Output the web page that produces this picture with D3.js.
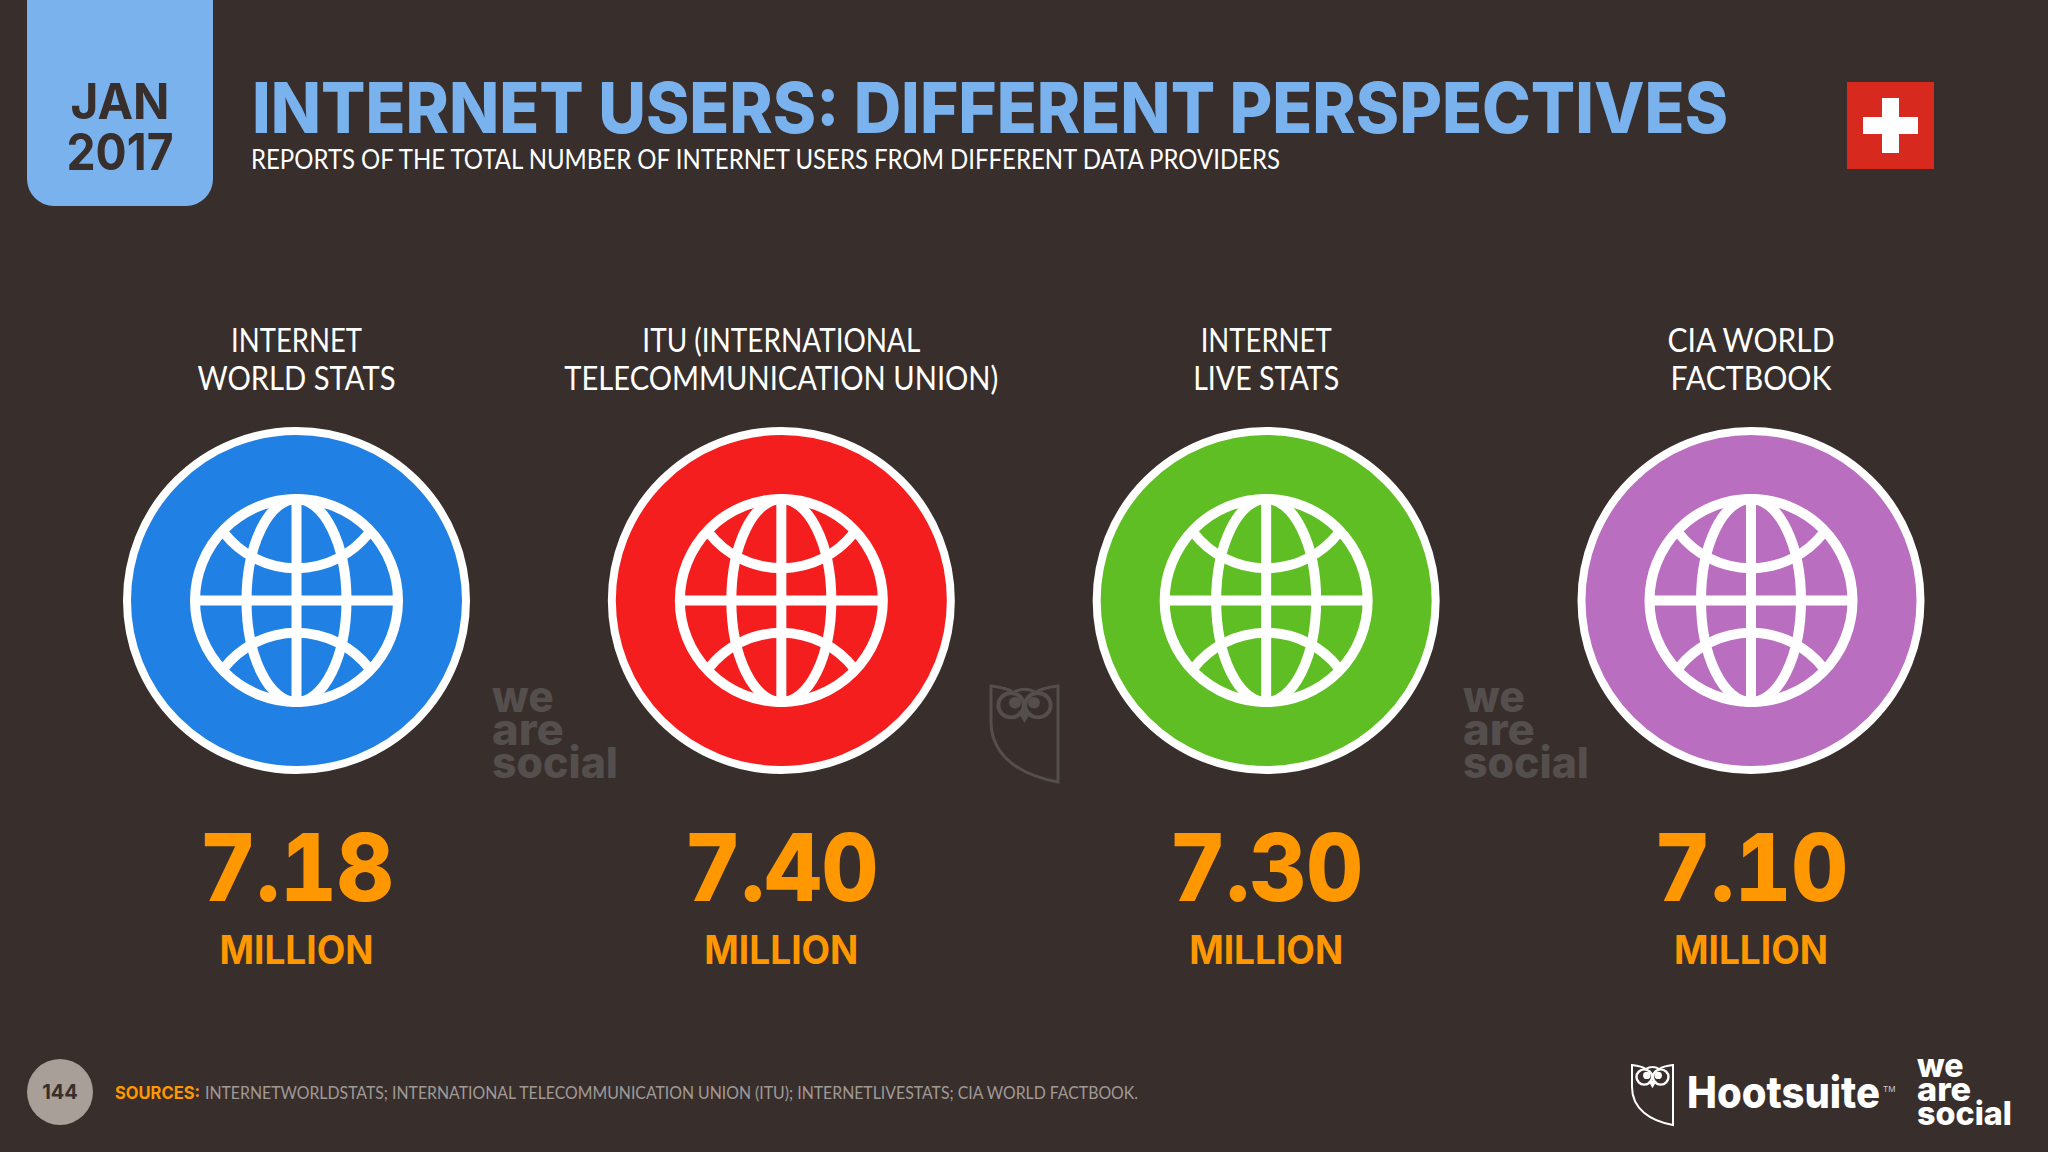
<!DOCTYPE html>
<html><head><meta charset="utf-8">
<script src="https://cdn.jsdelivr.net/npm/d3@7/dist/d3.min.js"></script>
<style>html,body{margin:0;padding:0;background:#382f2d;overflow:hidden}svg{display:block}</style>
</head><body><svg id="c" width="2048" height="1152"></svg>
<script>
const providers=["Internet World Stats","ITU","Internet Live Stats","CIA World Factbook"];
const labelLine1=["INTERNET","ITU (INTERNATIONAL","INTERNET","CIA WORLD"];
const labelLine2=["WORLD STATS","TELECOMMUNICATION UNION)","LIVE STATS","FACTBOOK"];
const usersMillions=[7.18,7.40,7.30,7.10];
const circleColors=["#2180e3","#f51e1f","#5fbe23","#b96ec0"];
const unitLabel="MILLION";
const titleText="INTERNET USERS: DIFFERENT PERSPECTIVES";
const subtitleText="REPORTS OF THE TOTAL NUMBER OF INTERNET USERS FROM DIFFERENT DATA PROVIDERS";
const sourceText="INTERNETWORLDSTATS; INTERNATIONAL TELECOMMUNICATION UNION (ITU); INTERNETLIVESTATS; CIA WORLD FACTBOOK.";

const line1Fit=[131,278,131,167];
const line2Fit=[198,434,146,161];

const svg=d3.select("#c");
const BG="#382f2d",BLUE="#7ab2ee",ORANGE="#ff9800",WM="#544e4d";
const HEAD="Inter, Roboto, sans-serif",LIGHT="Lato, 'Open Sans', sans-serif";
svg.append("rect").attr("width",2048).attr("height",1152).attr("fill",BG);

const x=d3.scalePoint().domain(providers).range([296.5,1751]);
const fmt=d3.format(".2f");

function txt(g,s,px,py,o){
  const t=g.append("text").attr("x",px).attr("y",py).text(s)
    .attr("font-family",o.font||HEAD).attr("font-size",o.size).attr("font-weight",o.weight||400)
    .attr("fill",o.fill).attr("text-anchor",o.anchor||"start");
  if(o.width) t.attr("textLength",o.width).attr("lengthAdjust","spacingAndGlyphs");
  return t;
}
// header
const badge=d3.path();
badge.moveTo(27,0);badge.lineTo(213,0);badge.lineTo(213,179);badge.arcTo(213,206,186,206,27);
badge.lineTo(54,206);badge.arcTo(27,206,27,179,27);badge.closePath();
svg.append("path").attr("fill",BLUE).attr("d",badge.toString());
txt(svg,"JAN",120,119,{size:49,weight:700,fill:BG,anchor:"middle",width:99});
txt(svg,"2017",120,170,{size:51,weight:700,fill:BG,anchor:"middle",width:107});
txt(svg,titleText,252,133,{size:70,weight:800,fill:BLUE,width:1476});
txt(svg,subtitleText,251,169,{size:26,font:LIGHT,fill:"#fff",width:1029});
// flag
svg.append("rect").attr("x",1847).attr("y",82).attr("width",87).attr("height",87).attr("fill","#d8291f");
svg.append("rect").attr("x",1863).attr("y",117).attr("width",55).attr("height",17).attr("fill","#fff");
svg.append("rect").attr("x",1882).attr("y",98).attr("width",17).attr("height",55).attr("fill","#fff");

// columns
const col=svg.selectAll("g.col").data(providers).join("g").attr("class","col")
  .attr("transform",d=>`translate(${x(d)},0)`);
col.append("text").attr("y",352).text((d,i)=>labelLine1[i]).attr("textLength",(d,i)=>line1Fit[i]);
col.append("text").attr("y",390).text((d,i)=>labelLine2[i]).attr("textLength",(d,i)=>line2Fit[i]);
col.selectAll("text").attr("text-anchor","middle").attr("font-family",LIGHT)
  .attr("font-size",33).attr("fill","#fff").attr("lengthAdjust","spacingAndGlyphs");
col.append("circle").attr("cy",600.5).attr("r",169.5).attr("stroke","#fff").attr("stroke-width",8)
  .attr("fill",(d,i)=>circleColors[i]);
const globe=col.append("g").attr("transform","translate(0,600.5)")
  .attr("fill","none").attr("stroke","#fff").attr("stroke-width",10);
globe.append("circle").attr("r",101.5);
globe.append("ellipse").attr("rx",50).attr("ry",101.5);
globe.append("line").attr("y1",-101).attr("y2",101);
globe.append("line").attr("x1",-101).attr("x2",101);
globe.append("path").attr("d","M-72,-67A92,92 0 0 0 72,-67");
globe.append("path").attr("d","M-72,67A92,92 0 0 1 72,67");
col.append("text").attr("y",901).text((d,i)=>fmt(usersMillions[i]))
  .attr("text-anchor","middle").attr("font-family",HEAD).attr("font-weight",800)
  .attr("font-size",94).attr("fill",ORANGE).style("font-variant-numeric","tabular-nums")
  .attr("textLength",194).attr("lengthAdjust","spacingAndGlyphs");
col.append("text").attr("y",964).text(unitLabel)
  .attr("text-anchor","middle").attr("font-family",HEAD).attr("font-weight",700)
  .attr("font-size",39).attr("fill",ORANGE).attr("textLength",154).attr("lengthAdjust","spacingAndGlyphs");

// logos
function owl(px,py,kx,ky,color,sw){
  const g=svg.append("g").attr("transform",`translate(${px},${py}) scale(${kx},${ky})`);
  g.append("path").attr("fill","none").attr("stroke",color).attr("stroke-width",sw/kx)
    .attr("d","M0,0 Q25,3 33,10 Q50,0 67,10 Q75,3 100,0 L100,150 C45,140 0,110 0,55 Z");
  g.selectAll("circle.e").data([[30,30],[70,30]]).join("circle").attr("class","e")
    .attr("cx",d=>d[0]).attr("cy",d=>d[1]).attr("r",19).attr("fill","none")
    .attr("stroke",color).attr("stroke-width",6);
  g.selectAll("circle.p").data([[36,26],[64,26]]).join("circle").attr("class","p")
    .attr("cx",d=>d[0]).attr("cy",d=>d[1]).attr("r",9).attr("fill",color);
  g.append("path").attr("fill",color).attr("d","M40,40 L60,40 L50,58 Z");
}
function was(px,py,size,lh,width,color){
  const t=svg.append("text").attr("font-family",HEAD).attr("font-size",size)
    .attr("font-weight",800).attr("fill",color);
  [["we",.49],["are",.57],["social",1]].forEach(([w,f],i)=>{
    t.append("tspan").attr("x",px).attr("y",py+i*lh).text(w)
      .attr("textLength",width*f).attr("lengthAdjust","spacingAndGlyphs");
  });
}
was(492,712,43,33,126,WM);
was(1463,712,43,33,126,WM);
owl(991,686,0.67,0.64,WM,3);
owl(1632,1065,0.41,0.40,"#fff",2);
txt(svg,"Hootsuite",1687,1108,{size:44,weight:800,fill:"#fff",width:193});
txt(svg,"TM",1883,1092,{size:8,fill:"#cfcac8"});
was(1917,1077,33,24,95,"#fff");

// footer
svg.append("circle").attr("cx",60).attr("cy",1092).attr("r",33).attr("fill","#a89f98");
txt(svg,"144",60,1099,{size:20,weight:700,fill:BG,anchor:"middle"});
txt(svg,"SOURCES:",115,1099,{size:17,weight:700,fill:ORANGE,width:85});
txt(svg,sourceText,205,1099,{size:18,font:LIGHT,fill:"#a09a96",width:933});
</script></body></html>
